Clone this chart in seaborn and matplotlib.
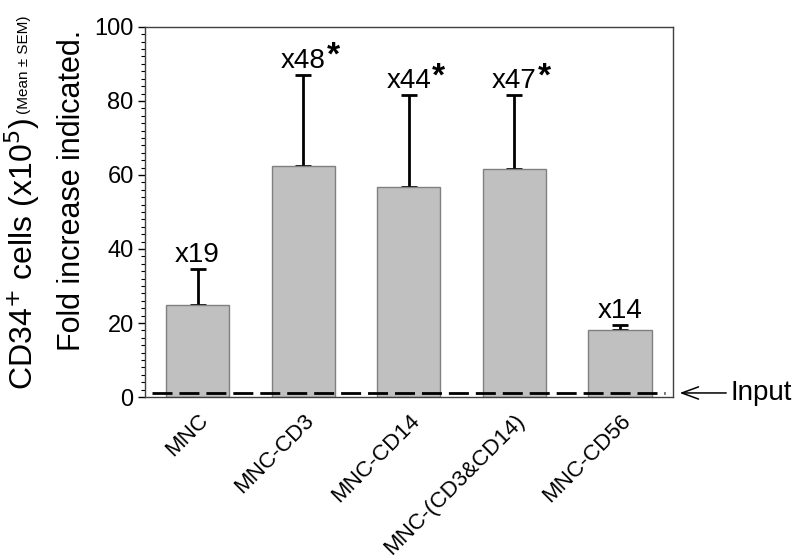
import numpy as np
import matplotlib
matplotlib.use("Agg")
import matplotlib.pyplot as plt
import seaborn as sns
from matplotlib.ticker import MultipleLocator

groups = ["MNC", "MNC-CD3", "MNC-CD14", "MNC-(CD3&CD14)", "MNC-CD56"]
means = [24.8, 62.4, 56.7, 61.5, 18.0]
sem_up = [9.8, 24.6, 24.8, 20.0, 1.5]
fold = ["x19", "x48", "x44", "x47", "x14"]
signif = [False, True, True, True, False]
input_level = 1.1

sns.set_style("white")
plt.rcParams["font.family"] = ["Liberation Sans", "DejaVu Sans"]
plt.rcParams.update({"text.color": "black", "axes.labelcolor": "black",
                     "xtick.color": "black", "ytick.color": "black"})

fig = plt.figure(figsize=(8, 5.6), dpi=100)
ax = fig.add_axes([0.181, 0.291, 0.66, 0.661])

sns.barplot(x=groups, y=means, color="#c0c0c0", edgecolor="#808080", linewidth=1,
            width=0.6, saturation=1, errorbar=None, ax=ax, zorder=2)
xpos = np.arange(len(groups))
ax.errorbar(xpos, means, yerr=[np.zeros(len(means)), sem_up], fmt="none",
            ecolor="black", elinewidth=2, capsize=6, capthick=2, zorder=1)

# dashed input line + arrow
ax.axhline(input_level, xmin=0.013, xmax=0.985, color="black", lw=2,
           linestyle=(0, (7.2, 2.5)), zorder=3)
ax.annotate("Input", xy=(1.013, input_level), xycoords=("axes fraction", "data"),
            xytext=(1.11, input_level), textcoords=("axes fraction", "data"),
            ha="left", va="center", fontsize=20, annotation_clip=False,
            arrowprops=dict(arrowstyle="->,head_length=0.6,head_width=0.22", lw=1.1,
                            color="black", mutation_scale=20, shrinkA=1, shrinkB=0))

ax.set_xlim(-0.5, 4.5)
ax.set_ylim(0, 100)
ax.yaxis.set_major_locator(MultipleLocator(20))
ax.yaxis.set_minor_locator(MultipleLocator(2))
ax.tick_params(axis="y", which="major", direction="out", length=5, width=1,
               left=True, labelsize=17, pad=3)
ax.tick_params(axis="y", which="minor", direction="out", length=3, width=0.8, left=True)
ax.tick_params(axis="x", bottom=False, labelsize=16, pad=6)
plt.setp(ax.get_xticklabels(), rotation=45, ha="right", va="top", rotation_mode="anchor")
ax.set_xlabel("")
ax.set_ylabel("")
for s in ax.spines.values():
    s.set_color("#404040")
    s.set_linewidth(1)

# fold-increase labels with significance stars
fig.canvas.draw()
renderer = fig.canvas.get_renderer()
for i, (lab, star) in enumerate(zip(fold, signif)):
    top = means[i] + sem_up[i]
    t = ax.annotate(lab, xy=(i, top), xytext=(0, 5), textcoords="offset points",
                    ha="center", va="baseline", fontsize=20)
    if star:
        bb = t.get_window_extent(renderer)
        base = ax.transData.transform((i, top))[1] + 5 * 100 / 72
        ax.annotate("*", xy=(bb.x1 + 1, base + 3), xycoords="figure pixels",
                    ha="left", va="baseline", fontsize=24, fontweight="bold")

# y label, two lines with mixed sizes
l1 = fig.text(0.028, 0.304, "CD34$^{+}$ cells (x10$^{5}$)", rotation=90,
              ha="center", va="bottom", fontsize=23)
fig.canvas.draw()
bb1 = l1.get_window_extent(renderer)
fig.text(0.03, bb1.y1 / fig.bbox.height + 0.006, "(Mean \u00b1 SEM)", rotation=90,
         ha="center", va="bottom", fontsize=11)
fig.text(0.09, 0.66, "Fold increase indicated.", rotation=90,
         ha="center", va="center", fontsize=22)

fig.savefig("out.png", dpi=100)
